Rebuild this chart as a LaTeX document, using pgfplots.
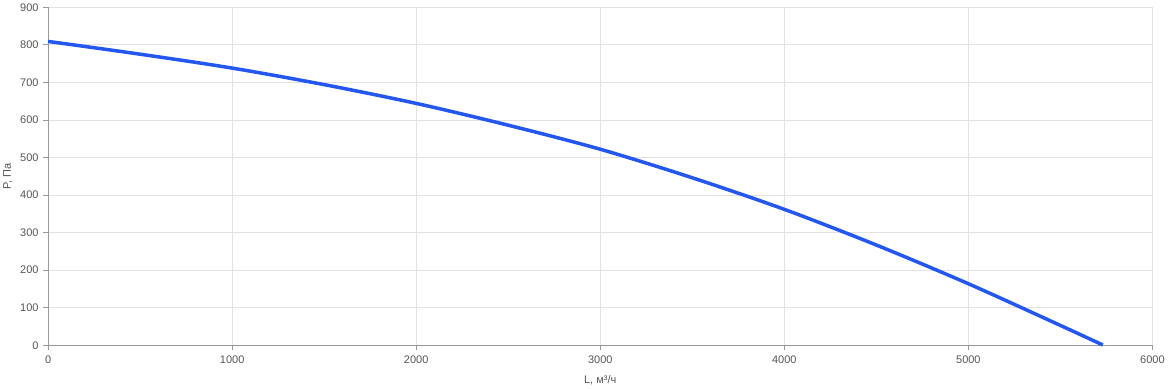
\documentclass[border=0pt]{standalone}
\usepackage{pgfplots}
\pgfplotsset{compat=1.18}
\usepackage{fontspec}
\setmainfont{Liberation Sans}
\definecolor{curve}{HTML}{2457F0}
\definecolor{gridc}{HTML}{E2E2E2}
\definecolor{axc}{HTML}{999999}
\definecolor{txt}{HTML}{555555}
\begin{document}
\begin{tikzpicture}
\begin{axis}[
  scale only axis,
  width=1104pt, height=338pt,
  xmin=0, xmax=6000, ymin=0, ymax=900,
  xtick={0,1000,...,6000}, ytick={0,100,...,900},
  grid=major,
  major grid style={gridc, line width=0.8pt},
  axis x line*=bottom, axis y line*=left,
  axis line style={axc, line width=0.8pt},
  tick style={axc, line width=0.8pt},
  tick align=outside, major tick length=5pt,
  /pgf/number format/assume math mode=true,
  /pgf/number format/1000 sep={},
  ticklabel style={font=\fontsize{11}{13}\selectfont, text=txt},
  xticklabel style={yshift=-2pt},
  yticklabel style={xshift=-1pt},
  xlabel={L, м³/ч}, ylabel={P, Па},
  label style={font=\fontsize{11}{13}\selectfont, text=txt},
  xlabel style={yshift=-5pt},
  ylabel style={yshift=1pt},
  clip=false,
]
\addplot[curve, line width=3.5pt, smooth, tension=0.5] coordinates {
(0,809) (500,775) (1000,738) (1500,694) (2000,644) (2500,586) (3000,522) (3500,446) (4000,362) (4500,267) (5000,164) (5500,53) (5730,1)
};
\end{axis}
\end{tikzpicture}
\end{document}
